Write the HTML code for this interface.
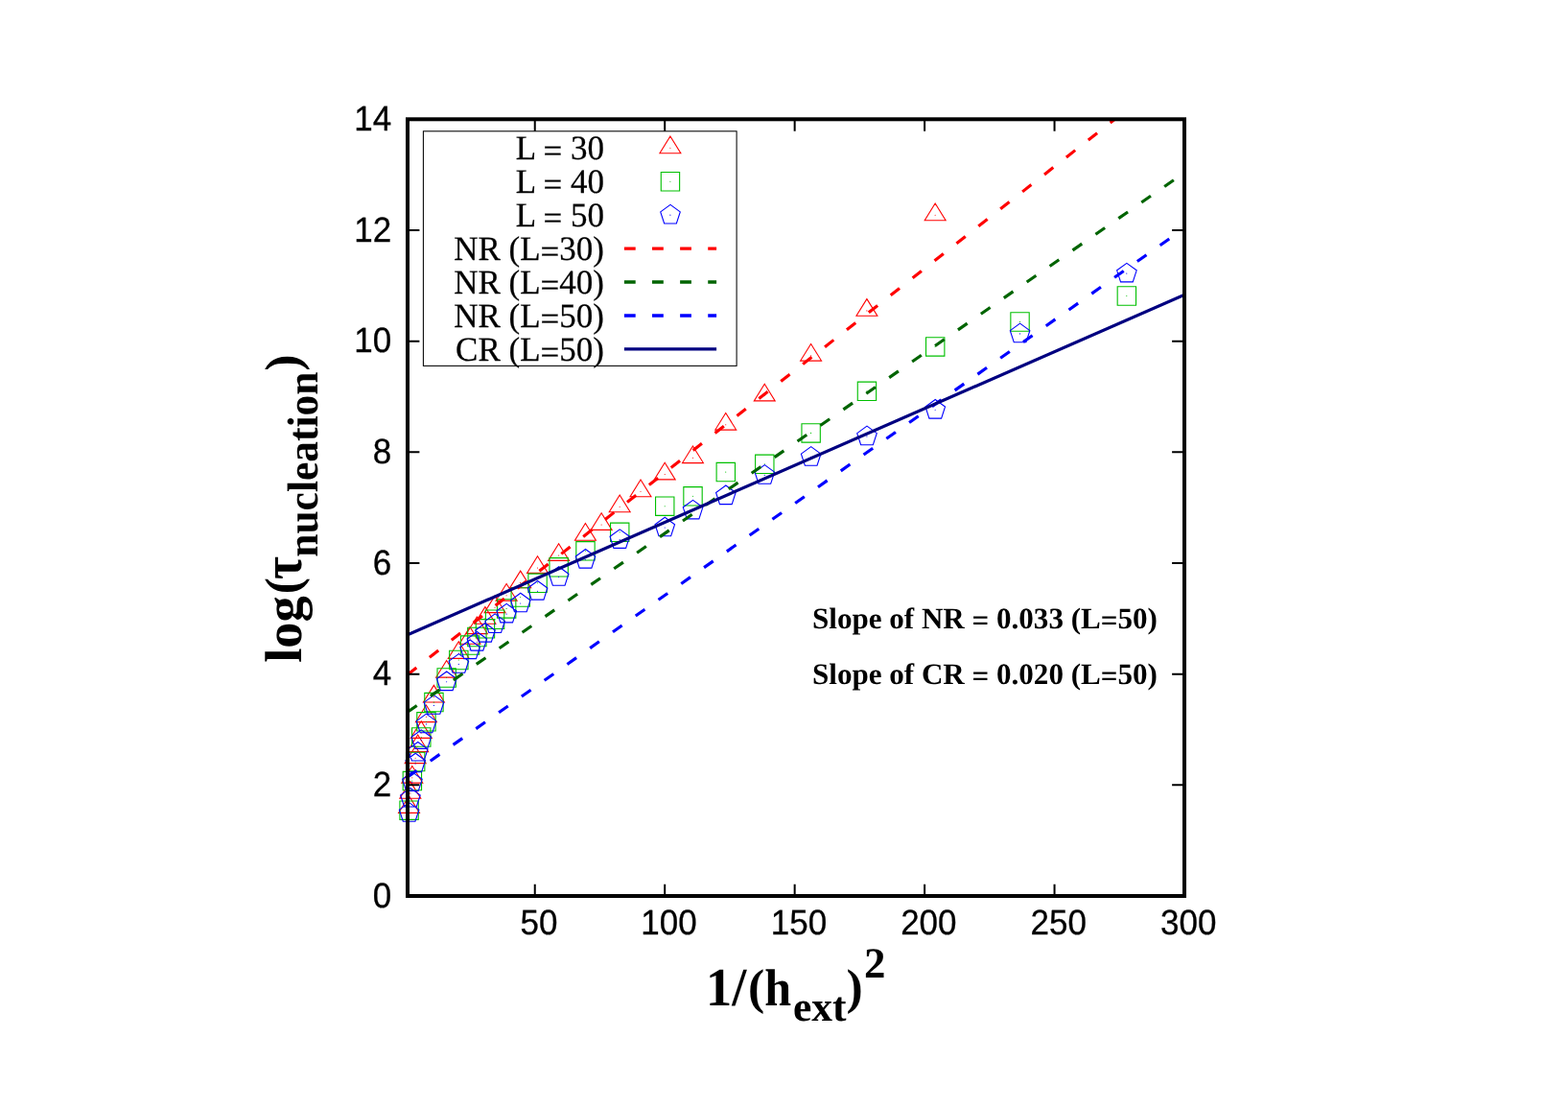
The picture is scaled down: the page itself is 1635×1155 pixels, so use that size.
<!DOCTYPE html>
<html lang="en">
<head>
<meta charset="utf-8">
<title>Nucleation time vs inverse squared field</title>
<style>
html,body{margin:0;padding:0;background:#fff;}
body{width:1635px;height:1155px;overflow:hidden;}
svg{display:block;text-rendering:geometricPrecision;}
.tk{font-family:"Liberation Sans",sans-serif;font-size:35px;fill:#000;stroke:#000;stroke-width:0.3px;}
.lg{font-family:"Liberation Serif",serif;font-size:35px;fill:#000;stroke:#000;stroke-width:0.25px;}
.lb{font-family:"Liberation Serif",serif;font-weight:bold;font-size:54.4px;fill:#000;}
.an{font-family:"Liberation Serif",serif;font-weight:bold;font-size:31.07px;fill:#000;}
.m{fill:none;stroke-width:1.1;stroke-linejoin:miter;stroke-miterlimit:10;}
.d{fill:none;stroke-width:1.1;stroke-linecap:round;}
.ln{fill:none;stroke-width:3.15;stroke-linecap:butt;}
.ds{stroke-dasharray:11.8 17.31;}
</style>
</head>
<body>
<svg width="1635" height="1155" viewBox="0 0 1635 1155">
<rect width="1635" height="1155" fill="#fff"/>
<defs><clipPath id="pc"><rect x="425" y="124.3" width="809" height="809.7"/></clipPath><clipPath id="pd"><rect x="425" y="124.3" width="806.8" height="809.7"/></clipPath></defs>
<g stroke="#ff0000"><path class="m" d="M426.52 829.75L415.57 847.38L437.47 847.38ZM427.82 814.65L416.87 832.28L438.77 832.28ZM429.82 798.45L418.87 816.08L440.77 816.08ZM433.13 777.95L422.18 795.58L444.08 795.58ZM435.67 765.95L424.72 783.58L446.62 783.58ZM439.22 751.75L428.27 769.38L450.17 769.38ZM444.41 734.95L433.46 752.58L455.36 752.58ZM452.39 714.35L441.44 731.98L463.34 731.98ZM465.64 688.45L454.69 706.08L476.59 706.08ZM478.26 668.75L467.31 686.38L489.21 686.38ZM490.02 653.55L479.07 671.18L500.97 671.18ZM497.33 642.95L486.38 660.58L508.28 660.58ZM505.9 632.65L494.95 650.28L516.85 650.28ZM516.03 620.95L505.08 638.58L526.98 638.58ZM528.11 608.45L517.16 626.08L539.06 626.08ZM542.69 595.15L531.74 612.78L553.64 612.78ZM560.51 579.75L549.56 597.38L571.46 597.38ZM582.59 566.75L571.64 584.38L593.54 584.38ZM610.42 545.55L599.47 563.18L621.37 563.18ZM627.13 534.75L616.18 552.38L638.08 552.38ZM646.18 516.05L635.23 533.68L657.13 533.68ZM668.01 500.05L657.06 517.68L678.96 517.68ZM693.19 482.25L682.24 499.88L704.14 499.88ZM722.46 464.95L711.51 482.58L733.41 482.58ZM756.74 430.45L745.79 448.08L767.69 448.08ZM797.24 400.25L786.29 417.88L808.19 417.88ZM845.58 358.45L834.63 376.08L856.53 376.08ZM903.9 311.65L892.95 329.28L914.85 329.28ZM975.15 212.05L964.2 229.68L986.1 229.68ZM698.9 142.05L687.95 159.68L709.85 159.68Z"/><path class="d" d="M426.52 842h0.01M427.82 826.9h0.01M429.82 810.7h0.01M433.13 790.2h0.01M435.67 778.2h0.01M439.22 764h0.01M444.41 747.2h0.01M452.39 726.6h0.01M465.64 700.7h0.01M478.26 681h0.01M490.02 665.8h0.01M497.33 655.2h0.01M505.9 644.9h0.01M516.03 633.2h0.01M528.11 620.7h0.01M542.69 607.4h0.01M560.51 592h0.01M582.59 579h0.01M610.42 557.8h0.01M627.13 547h0.01M646.18 528.3h0.01M668.01 512.3h0.01M693.19 494.5h0.01M722.46 477.2h0.01M756.74 442.7h0.01M797.24 412.5h0.01M845.58 370.7h0.01M903.9 323.9h0.01M975.15 224.3h0.01M698.9 154.3h0.01"/></g>
<g stroke="#00c000"><path class="m" d="M416.89 835H436.25V854.4H416.89ZM420.19 804.4H439.55V823.8H420.19ZM423.5 784.3H442.86V803.7H423.5ZM429.59 758.8H448.95V778.2H429.59ZM434.78 742.6H454.14V762H434.78ZM442.76 722.4H462.12V741.8H442.76ZM456.01 696.8H475.37V716.2H456.01ZM468.63 678.3H487.99V697.7H468.63ZM480.39 662.9H499.75V682.3H480.39ZM487.7 654.3H507.06V673.7H487.7ZM496.27 645.6H515.63V665H496.27ZM506.4 636.05H525.76V655.45H506.4ZM518.48 624.7H537.84V644.1H518.48ZM533.06 612.8H552.42V632.2H533.06ZM550.88 598.1H570.24V617.5H550.88ZM572.96 581.6H592.32V601H572.96ZM600.79 564.6H620.15V584H600.79ZM636.55 545.1H655.91V564.5H636.55ZM683.56 518H702.92V537.4H683.56ZM712.83 507.6H732.19V527H712.83ZM747.11 482.4H766.47V501.8H747.11ZM787.61 474.1H806.97V493.5H787.61ZM835.95 441.7H855.31V461.1H835.95ZM894.27 398.1H913.63V417.5H894.27ZM965.52 351.7H984.88V371.1H965.52ZM1053.85 325.8H1073.21V345.2H1053.85ZM1165.17 298.8H1184.53V318.2H1165.17ZM689.27 179.53H708.63V198.93H689.27Z"/><path class="d" d="M426.52 844.7h0.01M429.82 814.1h0.01M433.13 794h0.01M439.22 768.5h0.01M444.41 752.3h0.01M452.39 732.1h0.01M465.64 706.5h0.01M478.26 688h0.01M490.02 672.6h0.01M497.33 664h0.01M505.9 655.3h0.01M516.03 645.75h0.01M528.11 634.4h0.01M542.69 622.5h0.01M560.51 607.8h0.01M582.59 591.3h0.01M610.42 574.3h0.01M646.18 554.8h0.01M693.19 527.7h0.01M722.46 517.3h0.01M756.74 492.1h0.01M797.24 483.8h0.01M845.58 451.4h0.01M903.9 407.8h0.01M975.15 361.4h0.01M1063.48 335.5h0.01M1174.8 308.5h0.01M698.9 189.23h0.01"/></g>
<g stroke="#0000ff"><path class="m" d="M426.62 836.65L436.9 844.11L432.97 856.19L420.28 856.19L416.35 844.11ZM427.92 821.45L438.19 828.91L434.27 840.99L421.57 840.99L417.65 828.91ZM429.92 804.85L440.19 812.31L436.26 824.39L423.57 824.39L419.64 812.31ZM433.23 785.25L443.5 792.71L439.58 804.79L426.88 804.79L422.96 792.71ZM435.77 773.45L446.04 780.91L442.12 792.99L429.42 792.99L425.5 780.91ZM439.32 760.85L449.59 768.31L445.67 780.39L432.97 780.39L429.05 768.31ZM444.51 744.15L454.78 751.61L450.85 763.69L438.16 763.69L434.23 751.61ZM452.49 724.65L462.76 732.11L458.84 744.19L446.14 744.19L442.22 732.11ZM465.74 700.05L476.01 707.51L472.08 719.59L459.39 719.59L455.46 707.51ZM478.36 681.65L488.63 689.11L484.71 701.19L472.01 701.19L468.09 689.11ZM490.12 667.05L500.39 674.51L496.46 686.59L483.77 686.59L479.85 674.51ZM497.43 658.55L507.7 666.01L503.78 678.09L491.09 678.09L487.16 666.01ZM506 649.55L516.27 657.01L512.35 669.09L499.65 669.09L495.73 657.01ZM516.13 639.9L526.4 647.36L522.48 659.44L509.78 659.44L505.86 647.36ZM528.21 629.35L538.48 636.81L534.56 648.89L521.86 648.89L517.94 636.81ZM542.79 618.25L553.06 625.71L549.14 637.79L536.44 637.79L532.52 625.71ZM560.61 605.55L570.88 613.01L566.95 625.09L554.26 625.09L550.34 613.01ZM582.69 590.75L592.96 598.21L589.04 610.29L576.34 610.29L572.42 598.21ZM610.52 572.55L620.79 580.01L616.87 592.09L604.17 592.09L600.25 580.01ZM646.28 551.85L656.55 559.31L652.63 571.39L639.93 571.39L636.01 559.31ZM693.29 539.25L703.57 546.71L699.64 558.79L686.95 558.79L683.02 546.71ZM722.56 521.35L732.83 528.81L728.91 540.89L716.21 540.89L712.29 528.81ZM756.84 506.05L767.11 513.51L763.19 525.59L750.49 525.59L746.57 513.51ZM797.34 484.65L807.61 492.11L803.69 504.19L791 504.19L787.07 492.11ZM845.68 465.65L855.95 473.11L852.03 485.19L839.33 485.19L835.41 473.11ZM904 444.15L914.27 451.61L910.34 463.69L897.65 463.69L893.72 451.61ZM975.25 416.55L985.53 424.01L981.6 436.09L968.91 436.09L964.98 424.01ZM1063.58 337.15L1073.85 344.61L1069.93 356.69L1057.23 356.69L1053.31 344.61ZM1174.9 274.35L1185.17 281.81L1181.25 293.89L1168.55 293.89L1164.63 281.81ZM699 213.41L709.27 220.87L705.35 232.95L692.65 232.95L688.73 220.87Z"/><path class="d" d="M426.52 847.4h0.01M427.82 832.2h0.01M429.82 815.6h0.01M433.13 796h0.01M435.67 784.2h0.01M439.22 771.6h0.01M444.41 754.9h0.01M452.39 735.4h0.01M465.64 710.8h0.01M478.26 692.4h0.01M490.02 677.8h0.01M497.33 669.3h0.01M505.9 660.3h0.01M516.03 650.65h0.01M528.11 640.1h0.01M542.69 629h0.01M560.51 616.3h0.01M582.59 601.5h0.01M610.42 583.3h0.01M646.18 562.6h0.01M693.19 550h0.01M722.46 532.1h0.01M756.74 516.8h0.01M797.24 495.4h0.01M845.58 476.4h0.01M903.9 454.9h0.01M975.15 427.3h0.01M1063.48 347.9h0.01M1174.8 285.1h0.01M698.9 224.16h0.01"/></g>
<g stroke="#ff0000"><path class="ln ds" clip-path="url(#pd)" d="M425 703.2L1235 67.27"/><path class="ln ds" style="stroke-width:3.4" d="M650.9 259.09H747.1"/></g>
<g stroke="#006400"><path class="ln ds" clip-path="url(#pd)" d="M425 742.2L1235 180"/><path class="ln ds" style="stroke-width:3.4" d="M650.9 294.02H747.1"/></g>
<g stroke="#0000ff"><path class="ln ds" clip-path="url(#pd)" d="M425 810L1235 237.8"/><path class="ln ds" style="stroke-width:3.4" d="M650.9 328.95H747.1"/></g>
<g stroke="#000080"><path class="ln" clip-path="url(#pc)" d="M425 661.75L1235 307.35"/><path class="ln" style="stroke-width:3.4" d="M650.9 363.88H747.1"/></g>
<rect x="441.4" y="136.8" width="326.7" height="244.6" fill="none" stroke="#000" stroke-width="1.05"/>
<g class="lg" text-anchor="end">
<text transform="translate(630 166.2) scale(1 1.02)">L <tspan dy="2.7">=</tspan><tspan dy="-2.7"> 30</tspan></text>
<text transform="translate(630 201.13) scale(1 1.02)">L <tspan dy="2.7">=</tspan><tspan dy="-2.7"> 40</tspan></text>
<text transform="translate(630 236.06) scale(1 1.02)">L <tspan dy="2.7">=</tspan><tspan dy="-2.7"> 50</tspan></text>
<text transform="translate(630 270.99) scale(1 1.02)">NR (L<tspan dy="2.7">=</tspan><tspan dy="-2.7">30)</tspan></text>
<text transform="translate(630 305.92) scale(1 1.02)">NR (L<tspan dy="2.7">=</tspan><tspan dy="-2.7">40)</tspan></text>
<text transform="translate(630 340.85) scale(1 1.02)">NR (L<tspan dy="2.7">=</tspan><tspan dy="-2.7">50)</tspan></text>
<text transform="translate(630 375.78) scale(1 1.02)">CR (L<tspan dy="2.7">=</tspan><tspan dy="-2.7">50)</tspan></text>
</g>
<path d="M557.74 934v-12.2M557.74 124.3v12.5M693.19 934v-12.2M693.19 124.3v12.5M828.65 934v-12.2M828.65 124.3v12.5M964.1 934v-12.2M964.1 124.3v12.5M1099.55 934v-12.2M1099.55 124.3v12.5M425 818.33h12.4M1235 818.33h-12.9M425 702.66h12.4M1235 702.66h-12.9M425 586.99h12.4M1235 586.99h-12.9M425 471.31h12.4M1235 471.31h-12.9M425 355.64h12.4M1235 355.64h-12.9M425 239.97h12.4M1235 239.97h-12.9" fill="none" stroke="#000" stroke-width="2"/>
<rect x="425" y="124.3" width="810" height="809.7" fill="none" stroke="#000" stroke-width="4"/>
<g class="tk" text-anchor="end">
<text transform="translate(408.1 945.6) scale(1.0 1.045)">0</text>
<text transform="translate(408.1 829.93) scale(1.0 1.045)">2</text>
<text transform="translate(408.1 714.26) scale(1.0 1.045)">4</text>
<text transform="translate(408.1 598.59) scale(1.0 1.045)">6</text>
<text transform="translate(408.1 482.91) scale(1.0 1.045)">8</text>
<text transform="translate(408.1 367.24) scale(1.0 1.045)">10</text>
<text transform="translate(408.1 251.57) scale(1.0 1.045)">12</text>
<text transform="translate(408.1 135.9) scale(1.0 1.045)">14</text>
</g>
<g class="tk" text-anchor="middle">
<text transform="translate(561.99 973.5) scale(1.0 1.045)">50</text>
<text transform="translate(697.44 973.5) scale(1.0 1.045)">100</text>
<text transform="translate(832.9 973.5) scale(1.0 1.045)">150</text>
<text transform="translate(968.35 973.5) scale(1.0 1.045)">200</text>
<text transform="translate(1103.8 973.5) scale(1.0 1.045)">250</text>
<text transform="translate(1239.25 973.5) scale(1.0 1.045)">300</text>
</g>
<text class="an" x="847" y="655">Slope of NR <tspan dy="2.4">=</tspan><tspan dy="-2.4"> 0.033 (L</tspan><tspan dy="2.4">=</tspan><tspan dy="-2.4">50)</tspan></text>
<text class="an" x="847" y="713">Slope of CR <tspan dy="2.4">=</tspan><tspan dy="-2.4"> 0.020 (L</tspan><tspan dy="2.4">=</tspan><tspan dy="-2.4">50)</tspan></text>
<g class="lb"><text transform="translate(736 1047.9) scale(1 1.04)">1/</text><text x="780" y="1046" style="font-size:51.7px">(</text><text transform="translate(797.2 1047.9) scale(0.92 1)">h</text><text x="826.9" y="1063.7" style="font-size:43.5px">ext</text><text x="882.5" y="1046" style="font-size:51.7px">)</text><text transform="translate(901 1018.9) scale(1.03 1.03)" style="font-size:43.5px">2</text></g>
<g class="lb" transform="translate(314.2 690.8) rotate(-90)"><text x="0" y="0">log</text><text x="71.5" y="-1.9" style="font-size:51.7px">(</text><text transform="translate(86.7 0) scale(0.875 1)" style="font-size:59px">τ</text><text transform="translate(110 16.5) scale(1 1.04)" style="font-size:43.5px">nucleation</text><text x="304" y="-1.9" style="font-size:51.7px">)</text></g>
</svg>
</body>
</html>
